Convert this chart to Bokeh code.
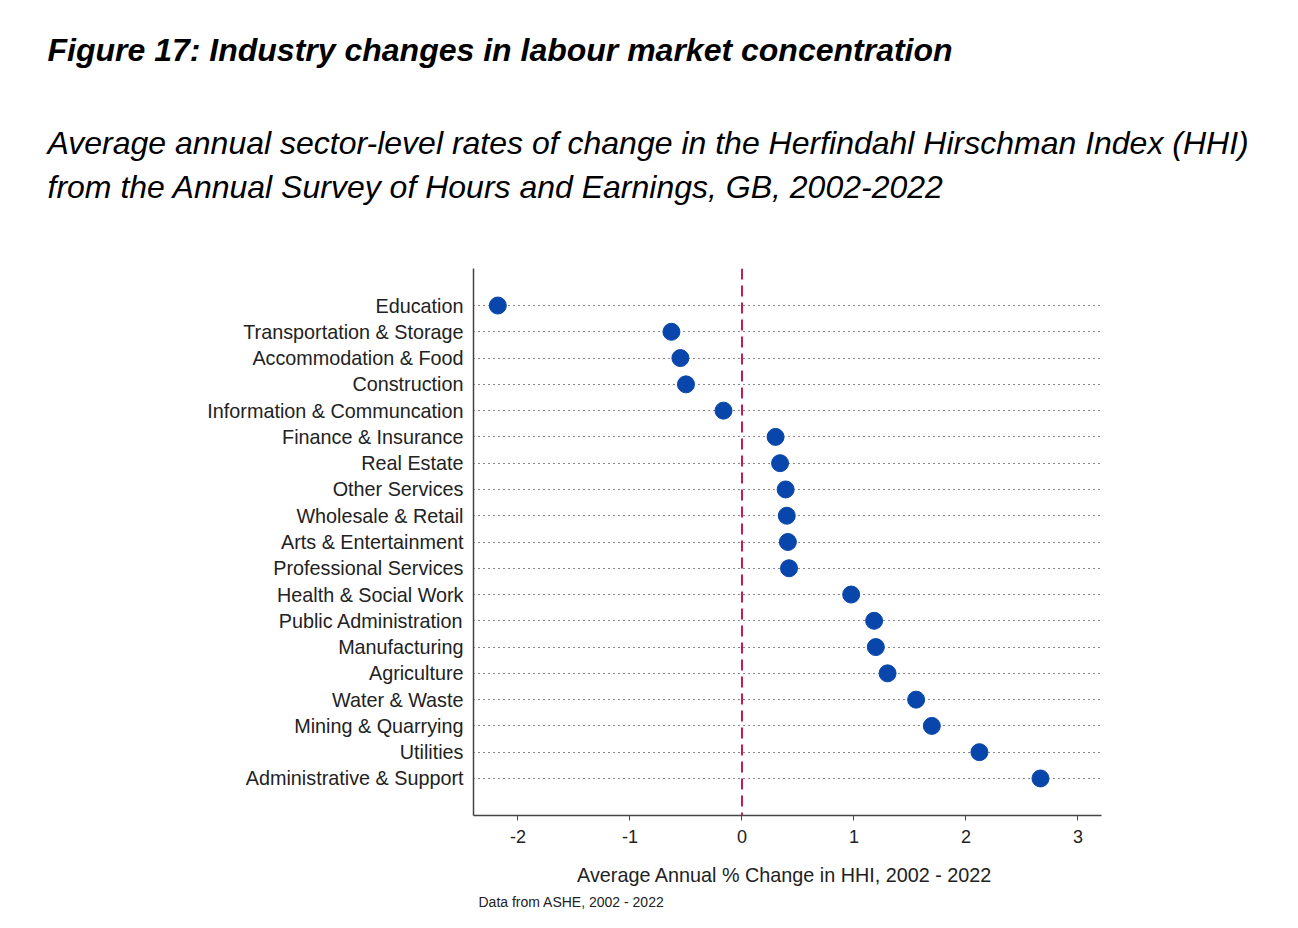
from bokeh.plotting import figure
from bokeh.models import Span, Title, FactorRange, Range1d, FixedTicker
from bokeh.embed import file_html
from bokeh.resources import INLINE

industries = [
    "Education", "Transportation & Storage", "Accommodation & Food", "Construction",
    "Information & Communcation", "Finance & Insurance", "Real Estate", "Other Services",
    "Wholesale & Retail", "Arts & Entertainment", "Professional Services",
    "Health & Social Work", "Public Administration", "Manufacturing", "Agriculture",
    "Water & Waste", "Mining & Quarrying", "Utilities", "Administrative & Support",
]
hhi_change = [
    -2.18, -0.63, -0.55, -0.50, -0.165, 0.30, 0.34, 0.39, 0.40, 0.41, 0.42,
    0.975, 1.18, 1.195, 1.30, 1.555, 1.695, 2.12, 2.665,
]
x_ticks = [-2, -1, 0, 1, 2, 3]
x_tick_labels = ["-2", "-1", "0", "1", "2", "3"]

FONT = "Liberation Sans"

p = figure(
    width=1282, height=912,
    y_range=FactorRange(factors=list(reversed(industries)), range_padding=0.91,
                        range_padding_units="absolute"),
    x_range=Range1d(-2.397, 3.21),
    output_backend="svg", toolbar_location=None,
    min_border_left=473, min_border_right=181, min_border_top=268, min_border_bottom=97,
)
p.outline_line_color = None
p.background_fill_color = "white"
p.border_fill_color = "white"

p.xgrid.grid_line_color = None
p.ygrid.grid_line_color = "#111111"
p.ygrid.grid_line_dash = "1 4"
p.ygrid.grid_line_width = 1.2

p.add_layout(Span(location=0, dimension="height", line_color="#C2185B",
                  line_width=2, line_dash="11 6"))

p.scatter(x=hhi_change, y=industries, size=17, color="#0846AB", line_color="#0846AB")

p.xaxis.ticker = FixedTicker(ticks=x_ticks)
p.xaxis.major_label_overrides = {t: s for t, s in zip(x_ticks, x_tick_labels)}
p.xaxis.axis_label = "Average Annual % Change in  HHI, 2002 - 2022"
p.xaxis.axis_label_text_font = FONT
p.xaxis.axis_label_text_font_size = "19.8px"
p.xaxis.axis_label_text_font_style = "normal"
p.xaxis.axis_label_text_color = "#222222"
p.xaxis.axis_label_standoff = 18
p.xaxis.major_label_text_font = FONT
p.xaxis.major_label_text_font_size = "18px"
p.xaxis.major_label_text_color = "#222222"
p.xaxis.major_label_standoff = 9
p.xaxis.minor_tick_line_color = None
p.xaxis.major_tick_in = 0
p.xaxis.major_tick_out = 5
p.xaxis.major_tick_line_color = "#444444"

for ax in (p.xaxis, p.yaxis):
    ax.axis_line_color = "#444444"
    ax.axis_line_width = 1.5

p.yaxis.major_tick_line_color = None
p.yaxis.minor_tick_line_color = None
p.yaxis.major_tick_in = 0
p.yaxis.major_tick_out = 0
p.yaxis.major_label_text_font = FONT
p.yaxis.major_label_text_font_size = "19.8px"
p.yaxis.major_label_text_color = "#222222"
p.yaxis.major_label_standoff = 10

p.add_layout(Title(text="Data from ASHE, 2002 - 2022", align="left", offset=5,
                   text_font=FONT, text_font_size="14px", text_font_style="normal",
                   text_color="#222222", standoff=6), "below")

# Titles stack upward from the plot frame; blank titles act as spacers.
def header(text, size, style, standoff):
    return Title(text=text, align="left", offset=-426, text_font=FONT,
                 text_font_size=size, text_font_style=style, text_color="black",
                 standoff=standoff)

p.add_layout(header(" ", "10px", "normal", 48), "above")
p.add_layout(header("from the Annual Survey of Hours and Earnings, GB, 2002-2022",
                    "32px", "italic", 5.6), "above")
p.add_layout(header("Average annual sector-level rates of change in the Herfindahl Hirschman Index (HHI)",
                    "32px", "italic", 5.6), "above")
p.add_layout(header(" ", "10px", "normal", 36), "above")
p.add_layout(header("Figure 17: Industry changes in labour market concentration",
                    "32px", "bold italic", 6), "above")

open("out.html", "w").write(file_html(p, INLINE))
